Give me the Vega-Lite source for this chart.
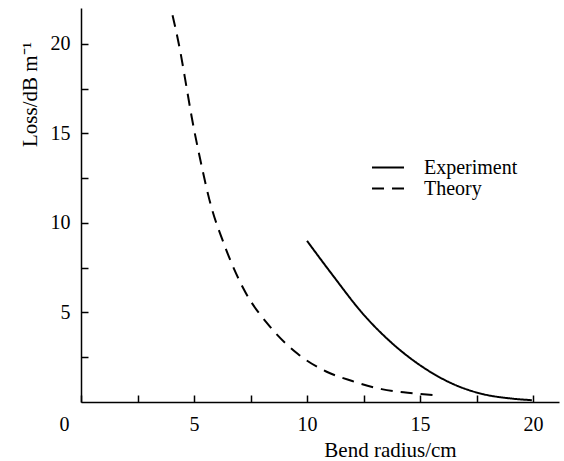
{
  "$schema": "https://vega.github.io/schema/vega-lite/v6.json",
  "width": 478,
  "height": 394,
  "autosize": {"type": "none"},
  "padding": {"left": 81, "top": 8, "right": 5, "bottom": 59},
  "background": "white",
  "config": {
    "view": {"stroke": null},
    "font": "Liberation Serif",
    "axis": {
      "grid": false,
      "domainColor": "black",
      "domainWidth": 1.5,
      "tickColor": "black",
      "tickWidth": 1.5,
      "labelColor": "black",
      "labelFont": "Liberation Serif",
      "labelFontSize": 20,
      "titleFont": "Liberation Serif",
      "titleFontSize": 21,
      "titleFontWeight": "normal",
      "titleColor": "black",
      "labelFlush": false,
      "labelOverlap": false
    }
  },
  "data": {
    "values": [
      {"series": "Experiment", "r": 10, "loss": 9.0},
      {"series": "Experiment", "r": 11.16, "loss": 7.04},
      {"series": "Experiment", "r": 12.49, "loss": 4.9},
      {"series": "Experiment", "r": 13.82, "loss": 3.22},
      {"series": "Experiment", "r": 15.16, "loss": 1.92},
      {"series": "Experiment", "r": 16.49, "loss": 0.99},
      {"series": "Experiment", "r": 17.82, "loss": 0.43},
      {"series": "Experiment", "r": 19.0, "loss": 0.2},
      {"series": "Experiment", "r": 19.95, "loss": 0.1},
      {"series": "Theory", "r": 4.05, "loss": 21.6},
      {"series": "Theory", "r": 4.38, "loss": 19.66},
      {"series": "Theory", "r": 4.68, "loss": 17.5},
      {"series": "Theory", "r": 4.9, "loss": 15.9},
      {"series": "Theory", "r": 5.3, "loss": 13.4},
      {"series": "Theory", "r": 5.68, "loss": 11.3},
      {"series": "Theory", "r": 6.37, "loss": 8.68},
      {"series": "Theory", "r": 7.18, "loss": 6.35},
      {"series": "Theory", "r": 8.36, "loss": 4.21},
      {"series": "Theory", "r": 9.6, "loss": 2.68},
      {"series": "Theory", "r": 10.87, "loss": 1.69},
      {"series": "Theory", "r": 12.0, "loss": 1.17},
      {"series": "Theory", "r": 13.3, "loss": 0.72},
      {"series": "Theory", "r": 14.46, "loss": 0.52},
      {"series": "Theory", "r": 15.56, "loss": 0.39}
    ]
  },
  "mark": {"type": "line", "interpolate": "monotone", "strokeWidth": 2, "color": "black"},
  "encoding": {
    "x": {
      "field": "r",
      "type": "quantitative",
      "scale": {"domain": [0, 21.15], "nice": false, "zero": false},
      "axis": {
        "title": "Bend radius/cm",
        "values": [0, 2.5, 5, 7.5, 10, 12.5, 15, 17.5, 20],
        "labelExpr": "datum.value % 5 === 0 ? format(datum.value, 'd') : ''",
        "labelOffset": {"condition": {"test": "datum.value === 0", "value": -17}, "value": 0},
        "tickSize": -7,
        "labelPadding": 19,
        "titleX": 309,
        "titleY": 54,
        "titleAlign": "center",
        "titleBaseline": "alphabetic"
      }
    },
    "y": {
      "field": "loss",
      "type": "quantitative",
      "scale": {"domain": [0, 22], "nice": false},
      "axis": {
        "title": "Loss/dB m⁻¹",
        "values": [2.5, 5, 7.5, 10, 12.5, 15, 17.5, 20],
        "labelExpr": "datum.value % 5 === 0 ? format(datum.value, 'd') : ''",
        "tickSize": -7,
        "labelPadding": 18,
        "titleAngle": -90,
        "titleX": -45,
        "titleY": 86,
        "titleAlign": "center",
        "titleBaseline": "alphabetic"
      }
    },
    "strokeDash": {
      "field": "series",
      "type": "nominal",
      "scale": {"domain": ["Experiment", "Theory"], "range": [[1, 0], [12, 8]]},
      "legend": {
        "title": null,
        "orient": "none",
        "legendX": 290,
        "legendY": 149,
        "symbolType": "stroke",
        "symbolSize": 1024,
        "symbolStrokeWidth": 2,
        "symbolStrokeColor": "black",
        "labelFont": "Liberation Serif",
        "labelFontSize": 20,
        "labelColor": "black",
        "labelOffset": 19,
        "clipHeight": 21,
        "rowPadding": 0,
        "padding": 0
      }
    }
  }
}
